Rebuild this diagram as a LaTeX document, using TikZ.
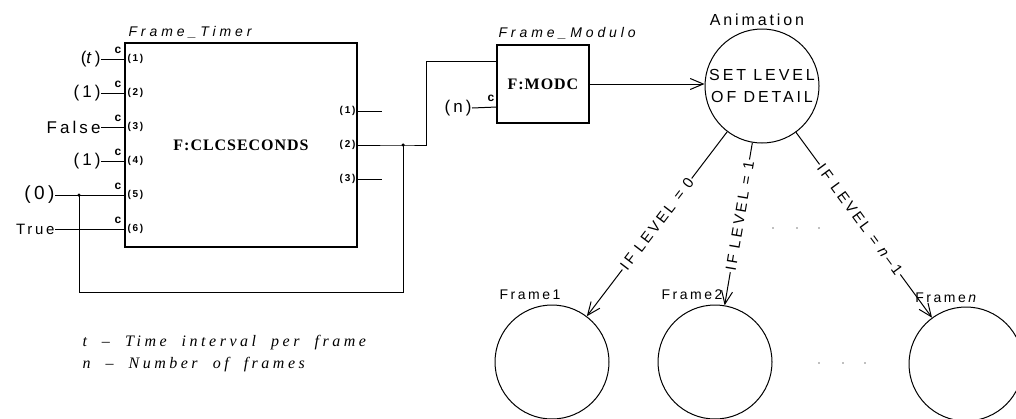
\documentclass[tikz,border=0pt]{standalone}
\usepackage{fontspec}
\usetikzlibrary{arrows.meta}
\newfontfamily\plotA{Liberation Sans}[LetterSpace=18]
\newfontfamily\plotB{Liberation Sans}[LetterSpace=28]
\newfontfamily\legendf{Liberation Serif}[LetterSpace=22,WordSpace=2]
\newfontfamily\codef{Liberation Serif}[LetterSpace=6]
\begin{document}
\begin{tikzpicture}[x=1pt,y=-1pt,line width=1pt,
  >={Straight Barb[length=13pt,width=11pt]},
  blk/.style={draw,line width=1.1pt,rectangle,inner sep=0pt},
  circ/.style={draw,circle,minimum size=114pt,inner sep=0pt},
  code/.style={font=\codef\bfseries\fontsize{16}{19}\selectfont},
  inlab/.style={font=\plotA\fontsize{17}{19}\selectfont,inner sep=0pt,anchor=east},
  cl/.style={font=\plotA\bfseries\fontsize{12}{14}\selectfont,inner sep=0pt},
  pl/.style={font=\plotA\bfseries\fontsize{10}{12}\selectfont,inner sep=0pt},
  hdr/.style={font=\plotB\itshape\fontsize{14}{16}\selectfont,inner sep=0pt,anchor=west},
  flab/.style={font=\plotA\fontsize{14}{16}\selectfont,inner sep=0pt},
  elab/.style={sloped,fill=white,inner sep=1.5pt,font=\plotA\fontsize{15}{17}\selectfont},
  leg/.style={font=\legendf\itshape\fontsize{16}{19}\selectfont,inner sep=0pt,anchor=west},
  jdot/.style={fill,circle,inner sep=0pt,minimum size=3.5pt},
  edot/.style={fill=gray,circle,inner sep=0pt,minimum size=1.6pt}]
\useasboundingbox (0,0) rectangle (1016,418);

% Frame_Timer block
\node[blk,code,minimum width=232pt,minimum height=204pt] (ft) at (241,145) {F:CLCSECONDS};
\node[hdr] (fthdr) at (128,32) {Frame\_Timer};

% input ports
\coordinate (ft1) at (125,59);
\coordinate (ft2) at (125,93);
\coordinate (ft3) at (125,127);
\coordinate (ft4) at (125,161);
\coordinate (ft5) at (125,195);
\coordinate (ft6) at (125,229);
\node[inlab] (i1) at (101,59) {(\textit{t})};
\node[inlab] (i2) at (101,93) {(1)};
\node[inlab] (i3) at (101,127) {False};
\node[inlab] (i4) at (101,161) {(1)};
\node[inlab,font=\plotA\fontsize{19}{21}\selectfont] (i5) at (55,195) {(0)};
\node[inlab,font=\plotA\fontsize{15}{17}\selectfont] (i6) at (55,229) {True};
\foreach \k/\y in {1/59,2/93,3/127,4/161,5/195,6/229}{
  \node[cl] (c\k) at (118,\y-9) {c};
  \node[pl,anchor=west] (p\k) at (127,\y) {(\k)};
}
\draw (i1.east) -- (ft1);
\draw (i2.east) -- (ft2);
\draw (i3.east) -- (ft3);
\draw (i4.east) -- (ft4);
\draw (i5.east) -- (ft5);
\draw (i6.east) -- (ft6);

% output ports
\coordinate (fo1) at (357,111);
\coordinate (fo2) at (357,145);
\coordinate (fo3) at (357,179);
\coordinate (fe1) at (382,111);
\coordinate (fe3) at (382,179);
\node[pl,anchor=east] (q1) at (356,111) {(1)};
\node[pl,anchor=east] (q2) at (356,145) {(2)};
\node[pl,anchor=east] (q3) at (356,179) {(3)};
\draw (fo1) -- (fe1);
\draw (fo3) -- (fe3);

% Frame_Modulo block
\node[blk,code,minimum width=92pt,minimum height=78pt] (fm) at (543,84) {F:MODC};
\node[hdr] (fmhdr) at (498,33) {Frame\_Modulo};
\coordinate (fm1) at (497,61);
\coordinate (fm2) at (497,107);
\node[inlab] (nin) at (472,108) {(n)};
\node[cl] (cn) at (491,98) {c};
\draw (nin.east) -- (fm2);

% connections and feedback
\coordinate (j1) at (403,145);
\coordinate (j0) at (79,195);
\coordinate (up1) at (426,145);
\coordinate (up2) at (426,61);
\coordinate (lp1) at (403,292);
\coordinate (lp2) at (79,292);
\draw (fo2) -- (j1) -- (up1) -- (up2) -- (fm1);
\draw (j1) -- (lp1) -- (lp2) -- (j0);
\node[jdot] (d1) at (j1) {};
\node[jdot] (d0) at (j0) {};

% Animation
\node[circ,align=center,font=\plotA\fontsize{16}{22}\selectfont] (anim) at (762,86) {SET LEVEL\\OF DETAIL};
\node[font=\plotA\fontsize{16}{18}\selectfont,inner sep=0pt] (animlab) at (757,20) {Animation};
\draw[->] (fm.east) -- (fm.east -| anim.west);

% frames
\node[circ] (f1) at (552,362) {};
\node[circ] (f2) at (715,362) {};
\node[circ] (fn) at (966,364) {};
\node[flab] (f1lab) at (530,295) {Frame1};
\node[flab] (f2lab) at (692,295) {Frame2};
\node[flab] (fnlab) at (947,298) {Frame\,\textit{n}};

\draw[->] (anim) -- node[elab,pos=0.5] {IF LEVEL = 0} (f1);
\draw[->] (anim) -- node[elab,pos=0.45] {IF LEVEL = 1} (f2);
\draw[->] (anim) -- node[elab,pos=0.47] {IF LEVEL = \textit{n}\textendash 1} (fn);

% ellipsis dots
\foreach \x in {773,797,819} \node[edot] at (\x,228) {};
\foreach \x in {819,843,865} \node[edot] at (\x,363) {};

% legend
\node[leg] (lg1) at (82,343) {t \textendash\ Time interval per frame};
\node[leg] (lg2) at (82,365) {n \textendash\ Number of frames};
\end{tikzpicture}
\end{document}
